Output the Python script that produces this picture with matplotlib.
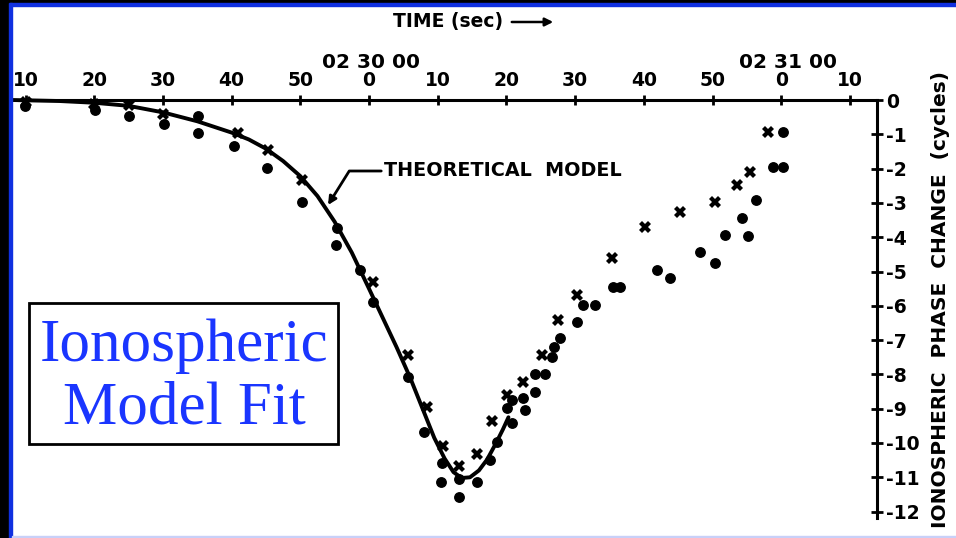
import matplotlib
matplotlib.use("Agg")
import matplotlib.pyplot as plt
from matplotlib.patches import Rectangle, FancyArrowPatch

# time in seconds relative to 02 30 00, phase change in cycles
curve_t = [-52, -45, -40, -35, -30, -25, -20, -17.5, -15, -12.5, -10, -7.5, -5, -2.5,
           0, 2, 4, 6, 8, 9.5, 11, 12.3, 13.5, 14.7, 16, 17.2, 18.5, 19.5, 20.3]
curve_v = [0, -0.03, -0.08, -0.17, -0.36, -0.62, -0.95, -1.15, -1.42, -1.78, -2.22,
           -2.8, -3.55, -4.45, -5.5, -6.35, -7.2, -8.1, -9.1, -9.85, -10.45, -10.85,
           -11.02, -11.0, -10.8, -10.48, -10.0, -9.6, -9.25]

cross_t = [-50, -40, -35, -30, -19, -14.7, -9.8, 0.6, 5.7, 8.4, 10.8, 13.1, 15.7,
           17.9, 20.1, 22.4, 25.2, 27.5, 30.3, 35.4, 40.2, 45.3, 50.4, 53.6, 55.5, 58.1]
cross_v = [-0.05, -0.12, -0.15, -0.41, -0.96, -1.46, -2.33, -5.31, -7.43, -8.95,
           -10.09, -10.67, -10.32, -9.36, -8.60, -8.22, -7.43, -6.41, -5.69, -4.61,
           -3.70, -3.27, -2.97, -2.48, -2.10, -0.93]

dot_t = [-50.1, -39.9, -34.9, -29.8, -24.9, -24.9, -19.6, -14.8, -9.7, -4.7, -4.8,
         -1.3, 0.6, 5.7, 8.0, 10.6, 10.5, 13.1, 13.1, 15.7, 17.6, 18.6, 20.1, 20.8,
         20.8, 22.4, 22.7, 24.2, 24.2, 25.6, 26.6, 26.9, 27.8, 30.3, 31.2, 32.9,
         35.5, 36.5, 41.9, 43.8, 48.2, 50.4, 51.8, 54.3, 55.2, 56.3, 58.8, 60.3, 60.3]
dot_v = [-0.17, -0.29, -0.47, -0.70, -0.47, -0.96, -1.34, -1.98, -2.97, -3.73, -4.23,
         -4.96, -5.89, -8.08, -9.68, -10.58, -11.14, -11.05, -11.57, -11.14, -10.50,
         -9.97, -8.98, -9.42, -8.75, -8.69, -9.04, -8.51, -7.99, -7.99, -7.49, -7.20,
         -6.94, -6.47, -5.98, -5.98, -5.45, -5.45, -4.96, -5.19, -4.43, -4.75, -3.94,
         -3.44, -3.97, -2.92, -1.95, -1.95, -0.93]

x_ticks = [-50, -40, -30, -20, -10, 0, 10, 20, 30, 40, 50, 60, 70]
x_labels = ["10", "20", "30", "40", "50", "0", "10", "20", "30", "40", "50", "0", "10"]
y_ticks = list(range(0, -13, -1))
y_labels = ["0"] + [f"-{i}" for i in range(1, 13)]

W, H = 956, 538
fig = plt.figure(figsize=(W / 100, H / 100), dpi=100, facecolor="white")

# slide frame (black + blue strip on top and left)
fig.patches.append(Rectangle((0, 1 - 3 / H), 1, 3 / H, transform=fig.transFigure,
                             color="black", zorder=0))
fig.patches.append(Rectangle((0, 1 - 6 / H), 1, 3 / H, transform=fig.transFigure,
                             color="#1030e0", zorder=0))
fig.patches.append(Rectangle((0, 0), 9 / W, 1, transform=fig.transFigure,
                             color="black", zorder=0))
fig.patches.append(Rectangle((9 / W, 0), 3 / W, 1 - 3 / H, transform=fig.transFigure,
                             color="#1030e0", zorder=0))
fig.patches.append(Rectangle((12 / W, 0), 1, 2 / H, transform=fig.transFigure,
                             color="#c8d0f8", zorder=0))

# axes: top spine = time, right spine = phase
ax = fig.add_axes([19 / W, 1 - 518 / H, (877 - 19) / W, (518 - 100) / H])
ax.set_xlim((19 - 369) / 6.87, (877 - 369) / 6.87)
ax.set_ylim(-(518 - 100) / 34.3, 0)
ax.set_facecolor("none")
for side in ["left", "bottom"]:
    ax.spines[side].set_visible(False)
for side in ["top", "right"]:
    ax.spines[side].set_linewidth(2.2)
ax.xaxis.tick_top()
ax.yaxis.tick_right()
ax.set_xticks(x_ticks, x_labels)
ax.set_yticks(y_ticks, y_labels)
ax.tick_params(axis="x", direction="inout", length=7, width=2, pad=4,
               labelsize=13.5)
ax.tick_params(axis="y", direction="inout", length=9, width=2, pad=2,
               labelsize=13.5)
for lab in ax.get_xticklabels() + ax.get_yticklabels():
    lab.set_fontweight("bold")

ax.plot(curve_t, curve_v, color="black", lw=2.8, clip_on=False, zorder=3,
        solid_joinstyle="round", solid_capstyle="round")
ax.plot(dot_t, dot_v, "o", color="black", ms=6.8, clip_on=False, zorder=4)
ax.plot(cross_t, cross_v, "X", color="black", ms=8, mew=0, clip_on=False, zorder=4)

ax.annotate("THEORETICAL  MODEL", xy=((328 - 369) / 6.87, -(205 - 100) / 34.3),
            xytext=((384 - 369) / 6.87, -(171 - 100) / 34.3),
            ha="left", va="center", fontsize=13.8, fontweight="bold",
            arrowprops=dict(arrowstyle="-|>", color="black", lw=2,
                            connectionstyle="angle,angleA=0,angleB=58,rad=0",
                            shrinkA=0, shrinkB=0, mutation_scale=12))

ax.text(0.3, (100 - 62) / 34.3, "02 30 00", ha="center", va="center",
        fontsize=14.5, fontweight="bold", clip_on=False)
ax.text(61, (100 - 62) / 34.3, "02 31 00", ha="center", va="center",
        fontsize=14.5, fontweight="bold", clip_on=False)

fig.text(393 / W, 1 - 22 / H, "TIME (sec)", ha="left", va="center",
         fontsize=13.5, fontweight="bold")
fig.add_artist(FancyArrowPatch(
    (509 / W, 1 - 22 / H), (556 / W, 1 - 22 / H), transform=fig.transFigure,
    arrowstyle="-|>", mutation_scale=12, lw=1.8, color="black"))

fig.text(941 / W, 1 - 300 / H, "IONOSPHERIC  PHASE  CHANGE  (cycles)",
         rotation=90, ha="center", va="center", fontsize=14.5, fontweight="bold")

# title box
fig.patches.append(Rectangle((29 / W, 1 - 444 / H), (338 - 29) / W, (444 - 303) / H,
                             transform=fig.transFigure, facecolor="white",
                             edgecolor="black", lw=2, zorder=5))
fig.text(184 / W, 1 - 361 / H, "Ionospheric", ha="center", va="baseline",
         fontsize=44, family="Liberation Serif", color="#1a35ff", zorder=6)
fig.text(184 / W, 1 - 424 / H, "Model Fit", ha="center", va="baseline",
         fontsize=44, family="Liberation Serif", color="#1a35ff", zorder=6)

fig.savefig("out.png", dpi=100, facecolor="white")
